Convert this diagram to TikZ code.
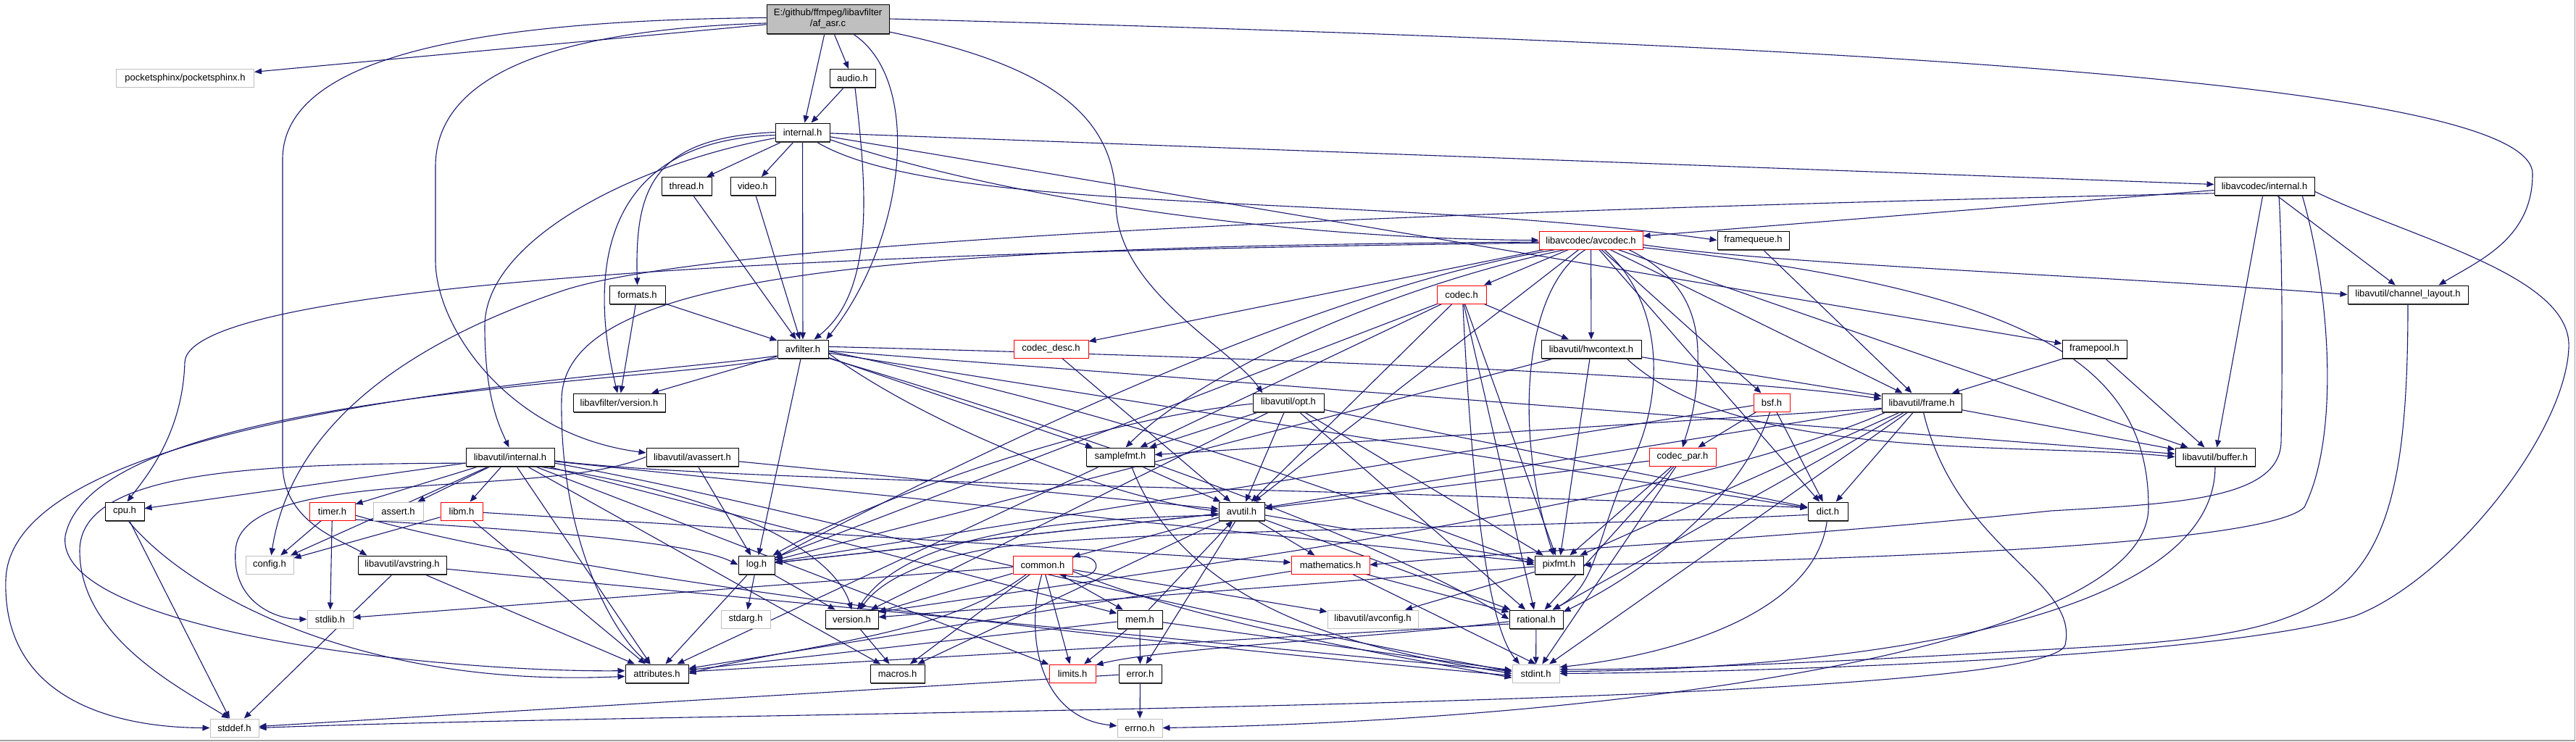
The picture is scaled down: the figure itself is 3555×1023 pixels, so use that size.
\documentclass[tikz,border=0pt]{standalone}
\usepackage{fontspec}
\setmainfont{Liberation Sans}
\usetikzlibrary{arrows.meta,shadows}
\definecolor{mb}{HTML}{191970}
\definecolor{gb}{HTML}{BFBFBF}
\definecolor{frm}{HTML}{A0A0A0}
\newcommand\nfont{\fontsize{13}{15}\selectfont}
\pgfdeclarelayer{bgrect}
\pgfdeclarelayer{edges}
\pgfsetlayers{bgrect,edges,main}
\tikzset{
 nb/.style={draw=black, fill=white, line width=1pt, minimum height=25pt, inner sep=0pt, font=\nfont},
 bk/.style={nb, drop shadow={shadow xshift=1pt, shadow yshift=-1.5pt, fill=black!70, opacity=1}},
 rd/.style={nb, draw=red},
 gy/.style={nb, draw=gb},
 w/.style={minimum width=#1pt},
 e/.style={draw=mb, line width=1.1pt, -{Triangle[length=10pt,width=8pt]}},
}
\begin{document}
\begin{tikzpicture}[x=1pt,y=-1pt]
\useasboundingbox (0,0) rectangle (3555,1023);
\begin{pgfonlayer}{bgrect}
\fill[white] (0,0) rectangle (3555,1023);
\draw[frm, line width=1.5pt] (0,1022) -- (3553.5,1022) -- (3553.5,0);
\end{pgfonlayer}
% nodes
\node[bk,fill=gb,w=169,minimum height=40pt,align=center] (af) at (1142.5,26) {E:/github/ffmpeg/libavfilter\\/af\_asr.c};
\node[gy,w=190] (ps) at (255.5,108) {pocketsphinx/pocketsphinx.h};
\node[bk,w=63] (audio) at (1176.5,108) {audio.h};
\node[bk,w=75] (lfint) at (1107.5,182.5) {internal.h};
\node[bk,w=69] (thread) at (947.5,257) {thread.h};
\node[bk,w=62] (video) at (1039,257) {video.h};
\node[bk,w=138] (lcint) at (3125,257) {libavcodec/internal.h};
\node[rd,w=143] (avcodec) at (2195.5,331.5) {libavcodec/avcodec.h};
\node[bk,w=99] (fq) at (2419.5,331.5) {framequeue.h};
\node[bk,w=77] (formats) at (879.5,406.5) {formats.h};
\node[rd,w=68] (codec) at (2017,406.5) {codec.h};
\node[bk,w=166] (chl) at (3323,406.5) {libavutil/channel\_layout.h};
\node[bk,w=70] (avfilter) at (1108,481.5) {avfilter.h};
\node[rd,w=103] (cdesc) at (1450.5,481.5) {codec\_desc.h};
\node[bk,w=138] (hwctx) at (2196,481.5) {libavutil/hwcontext.h};
\node[bk,w=89] (fpool) at (2890.5,481.5) {framepool.h};
\node[bk,w=127] (lfver) at (854.5,555.5) {libavfilter/version.h};
\node[bk,w=98] (opt) at (1778,555.5) {libavutil/opt.h};
\node[rd,w=50] (bsf) at (2445,555.5) {bsf.h};
\node[bk,w=110] (frame) at (2652,555.5) {libavutil/frame.h};
\node[bk,w=122] (luint) at (704,630.5) {libavutil/internal.h};
\node[bk,w=127] (avassert) at (955.5,630.5) {libavutil/avassert.h};
\node[bk,w=94] (samplefmt) at (1546,630.5) {samplefmt.h};
\node[rd,w=92] (cpar) at (2322,630.5) {codec\_par.h};
\node[bk,w=110] (buffer) at (3057,630.5) {libavutil/buffer.h};
\node[bk,w=54] (cpu) at (172,705.5) {cpu.h};
\node[rd,w=63] (timer) at (458.5,705.5) {timer.h};
\node[gy,w=69] (assert) at (549.5,705.5) {assert.h};
\node[rd,w=58] (libm) at (637,705.5) {libm.h};
\node[bk,w=63] (avutil) at (1713.5,705.5) {avutil.h};
\node[bk,w=55] (dict) at (2522.5,705.5) {dict.h};
\node[gy,w=66] (config) at (372,779.5) {config.h};
\node[bk,w=122] (avstring) at (555,779.5) {libavutil/avstring.h};
\node[bk,w=50] (log) at (1044,779.5) {log.h};
\node[rd,w=82] (common) at (1439,779.5) {common.h};
\node[rd,w=108] (math) at (1836,779.5) {mathematics.h};
\node[bk,w=67] (pixfmt) at (2151.5,779.5) {pixfmt.h};
\node[gy,w=63] (stdlib) at (455.5,854.5) {stdlib.h};
\node[gy,w=68] (stdarg) at (1029,854.5) {stdarg.h};
\node[bk,w=73] (version) at (1175.5,854.5) {version.h};
\node[bk,w=62] (mem) at (1573,854.5) {mem.h};
\node[gy,w=125] (avconfig) at (1894.5,854.5) {libavutil/avconfig.h};
\node[bk,w=74] (rational) at (2120,854.5) {rational.h};
\node[bk,w=87] (attributes) at (906.5,929.5) {attributes.h};
\node[bk,w=75] (macros) at (1238.5,929.5) {macros.h};
\node[rd,w=64] (limits) at (1480,929.5) {limits.h};
\node[bk,w=59] (error) at (1573.5,929.5) {error.h};
\node[gy,w=65] (stdint) at (2119.5,929.5) {stdint.h};
\node[gy,w=67] (stddef) at (323.5,1004.5) {stddef.h};
\node[gy,w=62] (errno) at (1573,1004.5) {errno.h};

\begin{pgfonlayer}{edges}
% af_asr.c
\draw[e] (af) -- (ps);
\draw[e] (af.179) .. controls (650,28) and (390,80) .. (390,220) -- (390,640) .. controls (390,720) and (470,745) .. (avstring.165);
\draw[e] (af.184) .. controls (800,40) and (601,90) .. (601,230) -- (601,360) .. controls (601,450) and (700,600) .. (avassert.175);
\draw[e] (af) -- (audio);
\draw[e] (af) -- (lfint);
\draw[e] (af.-31) .. controls (1275,110) and (1250,330) .. (avfilter.22);
\draw[e] (af.-12) .. controls (1450,90) and (1540,160) .. (1540,280) .. controls (1540,400) and (1700,480) .. (opt.160);
\draw[e] (af.east) .. controls (2500,60) and (3495,110) .. (3495,240) .. controls (3495,330) and (3420,360) .. (chl.17);
% audio.h
\draw[e] (audio) -- (lfint);
\draw[e] (audio.-75) .. controls (1195,250) and (1210,400) .. (avfilter.40);
% internal.h
\draw[e] (lfint) -- (thread);
\draw[e] (lfint) -- (video);
\draw[e] (lfint) -- (avfilter);
\draw[e] (lfint.west) .. controls (900,190) and (876,260) .. (formats.north);
\draw[e] (lfint.186) .. controls (800,195) and (822,420) .. (lfver.100);
\draw[e] (lfint.192) .. controls (880,225) and (669,330) .. (669,450) .. controls (669,550) and (690,590) .. (luint.97);
\draw[e] (lfint.-15) .. controls (1400,280) and (1800,330) .. (avcodec.west);
\draw[e] (lfint.-35) .. controls (1300,300) and (1900,265) .. (fq.west);
\draw[e] (lfint) -- (fpool);
\draw[e] (lfint) -- (lcint);
% thread, video, formats
\draw[e] (thread) -- (avfilter);
\draw[e] (video) -- (avfilter);
\draw[e] (formats) -- (avfilter);
\draw[e] (formats) -- (lfver);
% framepool, framequeue
\draw[e] (fpool) -- (frame);
\draw[e] (fpool) -- (buffer);
\draw[e] (fq) -- (frame);
% libavcodec/internal.h
\draw[e] (lcint) -- (avcodec);
\draw[e] (lcint) -- (chl);
\draw[e] (lcint) -- (buffer);
\draw[e] (lcint.188) .. controls (2000,290) and (1000,330) .. (780,400) .. controls (540,480) and (400,600) .. (config.80);
\draw[e] (lcint.-33) .. controls (3150,350) and (3150,520) .. (3148,610) .. controls (3146,690) and (3000,695) .. (2830,705) .. controls (2450,745) and (2100,760) .. (math.east);
\draw[e] (lcint.-14) .. controls (3215,400) and (3230,600) .. (3180,700) .. controls (3120,760) and (2400,775) .. (pixfmt.east);
\draw[e] (lcint.-6) .. controls (3330,330) and (3550,380) .. (3545,480) .. controls (3540,600) and (3380,800) .. (3250,850) .. controls (3050,910) and (2400,928) .. (stdint.east);
% channel_layout, buffer, dict -> stdint
\draw[e] (chl.south) .. controls (3323,820) and (3250,870) .. (2900,892) .. controls (2600,910) and (2300,925) .. (stdint.10);
\draw[e] (buffer.south) .. controls (3057,880) and (2450,925) .. (stdint.5);
\draw[e] (dict.-95) .. controls (2505,850) and (2300,905) .. (stdint.15);
% libavcodec/avcodec.h
\draw[e] (avcodec) -- (codec);
\draw[e] (avcodec) -- (hwctx);
\draw[e] (avcodec) -- (cdesc);
\draw[e] (avcodec) -- (bsf);
\draw[e] (avcodec) -- (frame);
\draw[e] (avcodec) -- (buffer);
\draw[e] (avcodec) -- (dict);
\draw[e] (avcodec) -- (avutil);
\draw[e] (avcodec.-5) .. controls (2450,365) and (2900,380) .. (chl.west);
\draw[e] (avcodec.200) .. controls (1900,400) and (1650,520) .. (samplefmt.60);
\draw[e] (avcodec.195) .. controls (1800,400) and (1300,650) .. (log.20);
\draw[e] (avcodec.-120) .. controls (2100,400) and (2090,600) .. (pixfmt.120);
\draw[e] (avcodec.-35) .. controls (2300,420) and (2300,560) .. (2240,660) .. controls (2200,760) and (2200,810) .. (rational.30);
\draw[e] (avcodec.-14) .. controls (2320,380) and (2345,430) .. (2343,500) .. controls (2342,560) and (2330,590) .. (cpar.north);
\draw[e] (avcodec.183) .. controls (1300,345) and (260,380) .. (255,500) .. controls (252,600) and (200,660) .. (cpu.75);
\draw[e] (avcodec.182) .. controls (1200,340) and (780,380) .. (775,550) .. controls (772,750) and (850,880) .. (attributes.125);
\draw[e] (avcodec.-8) .. controls (2800,400) and (2965,500) .. (2965,700) .. controls (2965,900) and (2200,995) .. (errno.east);
% codec.h
\draw[e] (codec) -- (hwctx);
\draw[e] (codec) -- (avutil);
\draw[e] (codec) -- (log);
\draw[e] (codec) -- (pixfmt);
\draw[e] (codec) -- (rational);
\draw[e] (codec) -- (samplefmt);
\draw[e] (codec.-82) .. controls (2030,650) and (2050,860) .. (stdint.150);
% codec_desc.h, codec_par.h, bsf.h
\draw[e] (cdesc) -- (avutil);
\draw[e] (cpar) -- (avutil);
\draw[e] (cpar) -- (pixfmt);
\draw[e] (cpar) -- (rational);
\draw[e] (cpar) -- (stdint);
\draw[e] (bsf) -- (cpar);
\draw[e] (bsf) -- (dict);
\draw[e] (bsf) -- (log);
\draw[e] (bsf.-100) .. controls (2400,700) and (2250,800) .. (rational.15);
% hwcontext.h
\draw[e] (hwctx) -- (frame);
\draw[e] (hwctx) -- (log);
\draw[e] (hwctx) -- (pixfmt);
\draw[e] (hwctx.-15) .. controls (2400,640) and (2800,610) .. (buffer.west);
% avfilter.h
\draw[e] (avfilter) -- (lfver);
\draw[e] (avfilter) -- (log);
\draw[e] (avfilter) -- (samplefmt);
\draw[e] (avfilter) -- (buffer);
\draw[e] (avfilter) -- (dict);
\draw[e] (avfilter.5) .. controls (1800,495) and (2400,520) .. (frame.175);
\draw[e] (avfilter.-10) .. controls (1300,600) and (1550,690) .. (avutil.west);
\draw[e] (avfilter.-5) .. controls (1600,580) and (1900,700) .. (pixfmt.west);
\draw[e] (avfilter.-20) .. controls (1500,600) and (1900,740) .. (rational.west);
\draw[e] (avfilter.200) .. controls (900,530) and (130,540) .. (90,740) .. controls (75,870) and (600,928) .. (attributes.175);
\draw[e] (avfilter.195) .. controls (880,520) and (15,560) .. (8,800) .. controls (3,960) and (150,1004) .. (stddef.west);
% opt.h
\draw[e] (opt) -- (avutil);
\draw[e] (opt) -- (dict);
\draw[e] (opt) -- (pixfmt);
\draw[e] (opt) -- (rational);
\draw[e] (opt) -- (samplefmt);
\draw[e] (opt) -- (version);
\draw[e] (opt.182) .. controls (1500,580) and (1200,690) .. (log.30);
% frame.h
\draw[e] (frame) -- (avutil);
\draw[e] (frame) -- (buffer);
\draw[e] (frame) -- (dict);
\draw[e] (frame) -- (rational);
\draw[e] (frame) -- (pixfmt);
\draw[e] (frame) -- (stdint);
\draw[e] (frame.188) -- (samplefmt);
\draw[e] (frame.195) .. controls (2300,700) and (1650,780) .. (version.15);
\draw[e] (frame.-80) .. controls (2700,760) and (2870,800) .. (2850,890) .. controls (2820,980) and (1000,980) .. (stddef.east);
% samplefmt.h
\draw[e] (samplefmt) -- (avutil);
\draw[e] (samplefmt) -- (attributes);
\draw[e] (samplefmt.-40) .. controls (1640,850) and (1900,900) .. (stdint.west);
% libavutil/internal.h
\draw[e] (luint) -- (timer);
\draw[e] (luint) -- (assert);
\draw[e] (luint) -- (libm);
\draw[e] (luint) -- (cpu);
\draw[e] (luint) -- (config);
\draw[e] (luint) -- (attributes);
\draw[e] (luint) -- (limits);
\draw[e] (luint) -- (macros);
\draw[e] (luint) -- (mem);
\draw[e] (luint) -- (pixfmt);
\draw[e] (luint.-20) .. controls (1000,680) and (1150,760) .. (version.north);
\draw[e] (luint.-5) .. controls (1000,665) and (1700,670) .. (dict.170);
\draw[e] (luint.-8) .. controls (1100,700) and (1500,820) .. (stdint.175);
\draw[e] (luint.188) .. controls (350,640) and (110,650) .. (110,760) .. controls (110,880) and (250,950) .. (stddef.120);
% avassert.h
\draw[e] (avassert) -- (avutil);
\draw[e] (avassert) -- (log);
\draw[e] (avassert.west) .. controls (750,690) and (330,640) .. (325,760) .. controls (320,830) and (380,855) .. (stdlib.west);
% avstring.h
\draw[e] (avstring) -- (stddef);
\draw[e] (avstring) -- (attributes);
\draw[e] (avstring) -- (stdint);
% timer.h
\draw[e] (timer) -- (config);
\draw[e] (timer) -- (stdlib);
\draw[e] (timer.-20) .. controls (700,730) and (950,745) .. (log.west);
\draw[e] (timer.-10) .. controls (800,800) and (1500,880) .. (stdint.185);
% libm.h
\draw[e] (libm) -- (config);
\draw[e] (libm) -- (attributes);
\draw[e] (libm) -- (math);
% cpu.h
\draw[e] (cpu) -- (stddef);
\draw[e] (cpu.-70) .. controls (260,820) and (500,950) .. (attributes.185);
% avutil.h
\draw[e] (avutil) -- (common);
\draw[e] (avutil) -- (error);
\draw[e] (avutil) -- (rational);
\draw[e] (avutil) -- (macros);
\draw[e] (avutil) -- (math);
\draw[e] (avutil) -- (log);
\draw[e] (avutil) -- (pixfmt);
\draw[e] (avutil.190) .. controls (1450,715) and (1250,740) .. (version.60);
% common.h
\draw[e] (common) -- (limits);
\draw[e] (common) -- (stdlib);
\draw[e] (common) -- (macros);
\draw[e] (common) -- (version);
\draw[e] (common) -- (avconfig);
\draw[e] (common) -- (mem);
\draw[e] (common.-12) .. controls (1650,860) and (1950,910) .. (stdint.190);
\draw[e] (common.-150) .. controls (1300,880) and (1100,890) .. (attributes.east);
\draw[e] (common.-95) .. controls (1415,870) and (1430,990) .. (errno.175);
\draw[e] (common.14) .. controls (1525,760) and (1525,805) .. (common.-30);
% mem.h
\draw[e] (mem) -- (limits);
\draw[e] (mem) -- (stdint);
\draw[e] (mem) -- (attributes);
\draw[e] (mem) -- (error);
\draw[e] (mem) -- (avutil);
% error.h
\draw[e] (error) -- (errno);
\draw[e] (error) -- (stddef);
% mathematics.h
\draw[e] (math.-23) -- (stdint.north);
\draw[e] (math) -- (attributes);
\draw[e] (math) -- (rational);
% log.h
\draw[e] (log) -- (stdarg);
\draw[e] (log) -- (avutil);
\draw[e] (log) -- (attributes);
\draw[e] (log) -- (version);
% version.h
\draw[e] (version) -- (macros);
% rational.h
\draw[e] (rational) -- (stdint);
\draw[e] (rational.185) .. controls (1900,880) and (1600,895) .. (limits.20);
\draw[e] (rational.190) -- (attributes);
% pixfmt.h
\draw[e] (pixfmt) -- (avconfig);
\draw[e] (pixfmt) -- (version);
% dict.h
\draw[e] (dict.190) .. controls (2100,730) and (1500,730) .. (1350,760) .. controls (1250,780) and (1210,810) .. (version.50);
\end{pgfonlayer}
\end{tikzpicture}
\end{document}
